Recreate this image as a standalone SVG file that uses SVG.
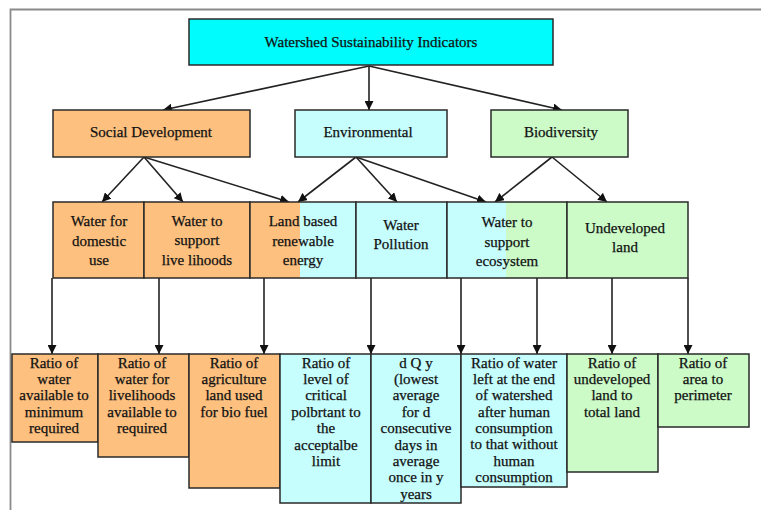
<svg xmlns="http://www.w3.org/2000/svg" width="761" height="510" viewBox="0 0 761 510">
<style>
.b{stroke:#2a2a2a;stroke-width:1.5}
.o{fill:#FDC07F}
.c{fill:#C6FEFE}
.g{fill:#CCFBC8}
.t{font-family:"Liberation Serif","Times New Roman",serif;font-size:15px;fill:#111;stroke:#111;stroke-width:0.25;text-anchor:middle}
.e{stroke:#222;stroke-width:1.6;fill:none;marker-end:url(#ah)}
</style>
<defs>
<marker id="ah" viewBox="0 0 10 10" refX="10" refY="5" markerWidth="9" markerHeight="9" markerUnits="userSpaceOnUse" orient="auto">
<path d="M0,0 L10,5 L0,10 z" fill="#111"/>
</marker>
</defs>
<rect width="761" height="510" fill="#fff"/>
<path d="M10.5,510 V9.5 H761" fill="none" stroke="#8a8a8a" stroke-width="1.8"/>

<g id="connectors">
<line class="e" x1="369" y1="66" x2="163" y2="110"/>
<line class="e" x1="369" y1="66" x2="369" y2="110"/>
<line class="e" x1="369" y1="66" x2="562" y2="110"/>
<line class="e" x1="144" y1="157" x2="102" y2="202"/>
<line class="e" x1="144" y1="157" x2="183" y2="202"/>
<line class="e" x1="144" y1="157" x2="289" y2="202"/>
<line class="e" x1="356" y1="157" x2="298" y2="202"/>
<line class="e" x1="356" y1="157" x2="397" y2="202"/>
<line class="e" x1="356" y1="157" x2="486" y2="202"/>
<line class="e" x1="552" y1="157" x2="495" y2="202"/>
<line class="e" x1="552" y1="157" x2="607" y2="202"/>
<line class="e" x1="52" y1="278" x2="52" y2="354"/>
<line class="e" x1="159" y1="278" x2="159" y2="354"/>
<line class="e" x1="264" y1="278" x2="264" y2="354"/>
<line class="e" x1="371" y1="278" x2="371" y2="354"/>
<line class="e" x1="461" y1="278" x2="461" y2="354"/>
<line class="e" x1="537" y1="278" x2="537" y2="354"/>
<line class="e" x1="612" y1="278" x2="612" y2="354"/>
<line class="e" x1="688" y1="278" x2="688" y2="354"/>
</g>

<g id="root">
<rect x="189" y="19" width="364" height="46" fill="#00FCFC" class="b"/>
<text class="t" x="371" y="47">Watershed Sustainability Indicators</text>
</g>

<g id="social">
<rect x="53" y="110" width="197" height="47" class="o b"/>
<text class="t" x="151" y="137">Social Development</text>
</g>
<g id="environmental">
<rect x="295" y="110" width="152" height="47" class="c b"/>
<text class="t" x="368" y="137">Environmental</text>
</g>
<g id="biodiversity">
<rect x="491" y="110" width="137" height="47" class="g b"/>
<text class="t" x="561" y="137">Biodiversity</text>
</g>

<g id="domestic">
<rect x="53" y="202" width="91" height="76" class="o b"/>
<text class="t" x="99" y="226">Water for</text>
<text class="t" x="99" y="245.5">domestic</text>
<text class="t" x="99" y="265">use</text>
</g>
<g id="livelihoods">
<rect x="144" y="202" width="106" height="76" class="o b"/>
<text class="t" x="197" y="225.5">Water to</text>
<text class="t" x="197" y="245">support</text>
<text class="t" x="197" y="264.5">live lihoods</text>
</g>
<g id="landenergy">
<rect x="250" y="202" width="50" height="76" class="o"/>
<rect x="300" y="202" width="56" height="76" class="c"/>
<rect x="250" y="202" width="106" height="76" fill="none" class="b"/>
<text class="t" x="303" y="226">Land based</text>
<text class="t" x="303" y="245.5">renewable</text>
<text class="t" x="303" y="265">energy</text>
</g>
<g id="pollution">
<rect x="356" y="202" width="91" height="76" class="c b"/>
<text class="t" x="401" y="230">Water</text>
<text class="t" x="401" y="248.5">Pollution</text>
</g>
<g id="ecosystem">
<rect x="447" y="202" width="59" height="76" class="c"/>
<rect x="506" y="202" width="61" height="76" class="g"/>
<rect x="447" y="202" width="120" height="76" fill="none" class="b"/>
<text class="t" x="507" y="227">Water to</text>
<text class="t" x="507" y="246.5">support</text>
<text class="t" x="507" y="265.5">ecosystem</text>
</g>
<g id="undeveloped">
<rect x="567" y="202" width="121" height="76" class="g b"/>
<text class="t" x="625" y="233">Undeveloped</text>
<text class="t" x="625" y="252">land</text>
</g>

<g id="ind1">
<rect x="12" y="354" width="86" height="88" class="o b"/>
<text class="t" x="54" y="367.5">Ratio of</text>
<text class="t" x="54" y="384">water</text>
<text class="t" x="54" y="400">available to</text>
<text class="t" x="54" y="416.5">minimum</text>
<text class="t" x="54" y="433">required</text>
</g>
<g id="ind2">
<rect x="98" y="354" width="91" height="103" class="o b"/>
<text class="t" x="142" y="367.5">Ratio of</text>
<text class="t" x="142" y="384">water for</text>
<text class="t" x="142" y="400">livelihoods</text>
<text class="t" x="142" y="416.5">available to</text>
<text class="t" x="142" y="433">required</text>
</g>
<g id="ind3">
<rect x="189" y="354" width="91" height="134" class="o b"/>
<text class="t" x="234" y="367.5">Ratio of</text>
<text class="t" x="234" y="384">agriculture</text>
<text class="t" x="234" y="400">land used</text>
<text class="t" x="234" y="416.5">for bio fuel</text>
</g>
<g id="ind4">
<rect x="280" y="354" width="91" height="149" class="c b"/>
<text class="t" x="326" y="367.5">Ratio of</text>
<text class="t" x="326" y="384">level of</text>
<text class="t" x="326" y="400">critical</text>
<text class="t" x="326" y="416.5">polbrtant to</text>
<text class="t" x="326" y="433">the</text>
<text class="t" x="326" y="449.5">acceptalbe</text>
<text class="t" x="326" y="466">limit</text>
</g>
<g id="ind5">
<rect x="371" y="354" width="90" height="149" class="c b"/>
<text class="t" x="416" y="367.5">d Q y</text>
<text class="t" x="416" y="384">(lowest</text>
<text class="t" x="416" y="400">average</text>
<text class="t" x="416" y="416.5">for d</text>
<text class="t" x="416" y="433">consecutive</text>
<text class="t" x="416" y="449.5">days in</text>
<text class="t" x="416" y="465.5">average</text>
<text class="t" x="416" y="481.5">once in y</text>
<text class="t" x="416" y="498.5">years</text>
</g>
<g id="ind6">
<rect x="461" y="354" width="106" height="133" class="c b"/>
<text class="t" x="514" y="367.5">Ratio of water</text>
<text class="t" x="514" y="384">left at the end</text>
<text class="t" x="514" y="400">of watershed</text>
<text class="t" x="514" y="416.5">after human</text>
<text class="t" x="514" y="433">consumption</text>
<text class="t" x="514" y="449">to that without</text>
<text class="t" x="514" y="465.5">human</text>
<text class="t" x="514" y="482">consumption</text>
</g>
<g id="ind7">
<rect x="567" y="354" width="91" height="118" class="g b"/>
<text class="t" x="612" y="367.5">Ratio of</text>
<text class="t" x="612" y="384">undeveloped</text>
<text class="t" x="612" y="400">land to</text>
<text class="t" x="612" y="416.5">total land</text>
</g>
<g id="ind8">
<rect x="658" y="354" width="91" height="73" class="g b"/>
<text class="t" x="703" y="367.5">Ratio of</text>
<text class="t" x="703" y="384">area to</text>
<text class="t" x="703" y="400">perimeter</text>
</g>
</svg>
